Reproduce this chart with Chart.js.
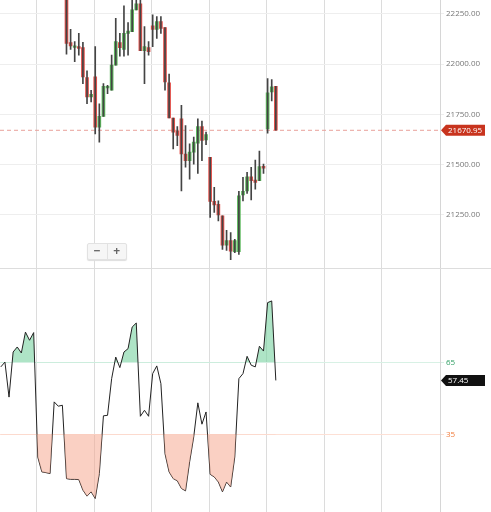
<!DOCTYPE html>
<html>
<head>
<meta charset="utf-8">
<script src="https://cdn.jsdelivr.net/npm/chart.js@4/dist/chart.umd.min.js"></script>
<style>
  body { margin: 0; background: #fff; font-family: "Open Sans", sans-serif; }
  #wrap { position: relative; width: 491px; height: 512px; }
  #priceBox { position: absolute; left: 0; top: 0; width: 491px; height: 268px; overflow: hidden; }
  #rsiBox { position: absolute; left: 0; top: 268px; width: 491px; height: 244px; border-top: 1px solid #ddd; box-sizing: border-box; overflow: hidden; }
  canvas { display: block; margin-top: -7px; }
  #zoomBtns { position: absolute; left: 87px; top: 243px; width: 38px; height: 15px; background: #f6f6f6;
    border: 1px solid #e2e2e2; border-radius: 2px; display: flex; font-size: 12px; color: #666; font-weight: bold; box-shadow: 0 1px 1px #ddd; }
  #zoomBtns span { flex: 1; text-align: center; line-height: 14px; }
  #zoomBtns span:first-child { border-right: 1px solid #e2e2e2; }
</style>
</head>
<body>
<div id="wrap">
  <div id="priceBox"><canvas id="priceChart" width="491" height="282"></canvas></div>
  <div id="rsiBox"><canvas id="rsiChart" width="491" height="257"></canvas></div>
  <div id="zoomBtns"><span>−</span><span>+</span></div>
</div>
<script>
// candles start at index 16; RSI covers index 0..67
const firstCandle = 16;
const opens  = [22400,22107,22083,22087,22082,21933,21837,21937,21687,21740,21882,21870,21995,22107,22073,22153,22162,22270,22300,22067,22082,22190,22173,22212,22182,21907,21732,21667,21728,21553,21520,21562,21607,21690,21623,21537,21317,21303,21245,21100,21123,21067,21067,21350,21370,21440,21423,21420,21492,21678,21862,21890];
const highs  = [22450,22173,22112,22153,22108,21967,21870,22087,21803,21903,21895,22045,22228,22153,22290,22207,22330,22340,22340,22187,22112,22245,22237,22237,22182,21950,21732,21690,21795,21695,21603,21637,21728,21717,21662,21537,21387,21320,21245,21173,21162,21128,21367,21437,21462,21487,21523,21567,21503,21928,21923,21890];
const lows   = [22050,22073,22012,22045,21903,21803,21812,21653,21612,21740,21853,21870,21995,22040,22040,22045,22162,22270,22067,21903,22045,22087,22128,22153,21870,21733,21578,21595,21370,21487,21428,21503,21457,21520,21600,21237,21262,21220,21078,21073,21028,21062,21053,21320,21357,21325,21378,21420,21457,21657,21817,21671];
const closes = [22103,22090,22090,22078,21937,21837,21850,21687,21740,21890,21890,21995,22112,22082,22153,22165,22270,22300,22067,22087,22062,22173,22212,22178,21912,21733,21662,21645,21553,21520,21562,21612,21690,21620,21650,21317,21300,21250,21100,21123,21070,21123,21345,21367,21440,21420,21412,21490,21483,21857,21887,21670.95];
const rsiValues = [63.1,65.1,50.5,69.3,71.4,68.9,77.6,74.2,77.4,25.5,19.3,19.0,18.6,48.5,46.7,47.1,16.5,16.2,16.2,16.1,11.7,9.2,11.0,8.2,18.6,42.7,42.9,58.2,67.2,62.8,69.3,70.7,79.7,81.4,42.5,45.0,42.5,60.3,63.5,56.1,26.9,19.3,16.5,15.6,12.4,11.4,23.5,33.9,48.1,39.2,44.3,18.3,17.2,15.1,11.0,15.1,13.0,25.5,58.2,60.3,67.5,63.8,63.1,71.7,69.7,89.9,90.6,57.45];
const priceTicks = [21250, 21500, 21750, 22000, 22250];
const rsiTicks = [35, 65];
const lastPrice = 21670.95;
const lastRsi = 57.45;

const red = '#e2504a', green = '#5cb85c';
const xMin = -0.2, xMax = 107;
const vGrid = [8.8, 22.8, 36.8, 50.8, 64.8, 78.8, 92.8];

function xScale() {
  return {
    type: 'linear', min: xMin, max: xMax, offset: false,
    afterBuildTicks: s => { s.ticks = vGrid.map(v => ({ value: v })); },
    ticks: { display: false },
    grid: { color: '#dcdcdc', drawTicks: false, offset: false },
    border: { display: false }
  };
}

function tagPlugin(value, text, bg) {
  return {
    id: 'tag',
    afterDraw(chart) {
      const { ctx, chartArea } = chart;
      const y = chart.scales.y.getPixelForValue(value);
      ctx.save();
      ctx.fillStyle = bg;
      const x0 = chartArea.right + 1, w = 44, h = 11;
      ctx.beginPath();
      ctx.moveTo(x0, y);
      ctx.lineTo(x0 + 5, y - h / 2);
      ctx.lineTo(x0 + w, y - h / 2);
      ctx.lineTo(x0 + w, y + h / 2);
      ctx.lineTo(x0 + 5, y + h / 2);
      ctx.closePath();
      ctx.fill();
      ctx.fillStyle = '#fff';
      ctx.font = '8px "Open Sans"';
      ctx.textBaseline = 'middle';
      ctx.fillText(text, x0 + 7, y + 0.5);
      ctx.restore();
    }
  };
}

const dashPlugin = {
  id: 'dash',
  beforeDatasetsDraw(chart) {
    const { ctx, chartArea } = chart;
    const y = chart.scales.y.getPixelForValue(lastPrice);
    ctx.save();
    ctx.strokeStyle = '#e8a09a';
    ctx.setLineDash([4, 3]);
    ctx.beginPath();
    ctx.moveTo(chartArea.left, y);
    ctx.lineTo(chartArea.right, y);
    ctx.stroke();
    ctx.restore();
  }
};

const candleColors = opens.map((o, i) => closes[i] >= o ? green : red);
const wickData = highs.map((h, i) => ({ x: firstCandle + i, y: [lows[i], h] }));
const bodyData = opens.map((o, i) => {
  let a = o, b = closes[i];
  if (Math.abs(a - b) < 8) b = a + (b >= a ? 8 : -8);
  return { x: firstCandle + i, y: [Math.min(a, b), Math.max(a, b)] };
});

new Chart(document.getElementById('priceChart'), {
  type: 'bar',
  data: {
    datasets: [
      { data: wickData, backgroundColor: '#444', barThickness: 1, grouped: false },
      { data: bodyData, backgroundColor: candleColors, barThickness: 3, grouped: false }
    ]
  },
  options: {
    responsive: false, animation: false, devicePixelRatio: 1,
    plugins: { legend: { display: false }, tooltip: { enabled: false } },
    scales: {
      x: xScale(),
      y: {
        position: 'right', min: 20985, max: 22320,
        afterBuildTicks: s => { s.ticks = priceTicks.map(v => ({ value: v })); },
        afterFit: s => { s.width = 51; },
        ticks: { color: '#777', font: { size: 8, family: 'Open Sans' }, padding: 2, callback: v => v.toFixed(2) },
        grid: { color: '#eeeeee', tickLength: 4 },
        border: { color: '#d6d6d6' }
      }
    }
  },
  plugins: [dashPlugin, tagPlugin(lastPrice, '21670.95', '#c8341e')]
});

const rsiData = rsiValues.map((v, i) => ({ x: i, y: v }));

new Chart(document.getElementById('rsiChart'), {
  type: 'line',
  data: {
    datasets: [
      { data: rsiData, borderColor: 'rgba(0,0,0,0)', pointRadius: 0,
        fill: { target: { value: 35 }, above: 'rgba(0,0,0,0)', below: 'rgba(246,170,145,0.55)' } },
      { data: rsiData, borderColor: '#222', borderWidth: 1, pointRadius: 0, tension: 0,
        fill: { target: { value: 65 }, above: 'rgba(120,210,160,0.6)', below: 'rgba(0,0,0,0)' } }
    ]
  },
  options: {
    responsive: false, animation: false, devicePixelRatio: 1,
    plugins: { legend: { display: false }, tooltip: { enabled: false } },
    scales: {
      x: xScale(),
      y: {
        position: 'right', min: 2.5, max: 104,
        afterBuildTicks: s => { s.ticks = rsiTicks.map(v => ({ value: v })); },
        afterFit: s => { s.width = 51; },
        ticks: { font: { size: 8, family: 'Open Sans' }, padding: 2, color: ['#f07a3a', '#2f9e63'] },
        grid: { color: ['#fde0d5', '#d8f1e5'], tickLength: 4 },
        border: { color: '#d6d6d6' }
      }
    }
  },
  plugins: [tagPlugin(lastRsi, '57.45', '#111')]
});
</script>
</body>
</html>
